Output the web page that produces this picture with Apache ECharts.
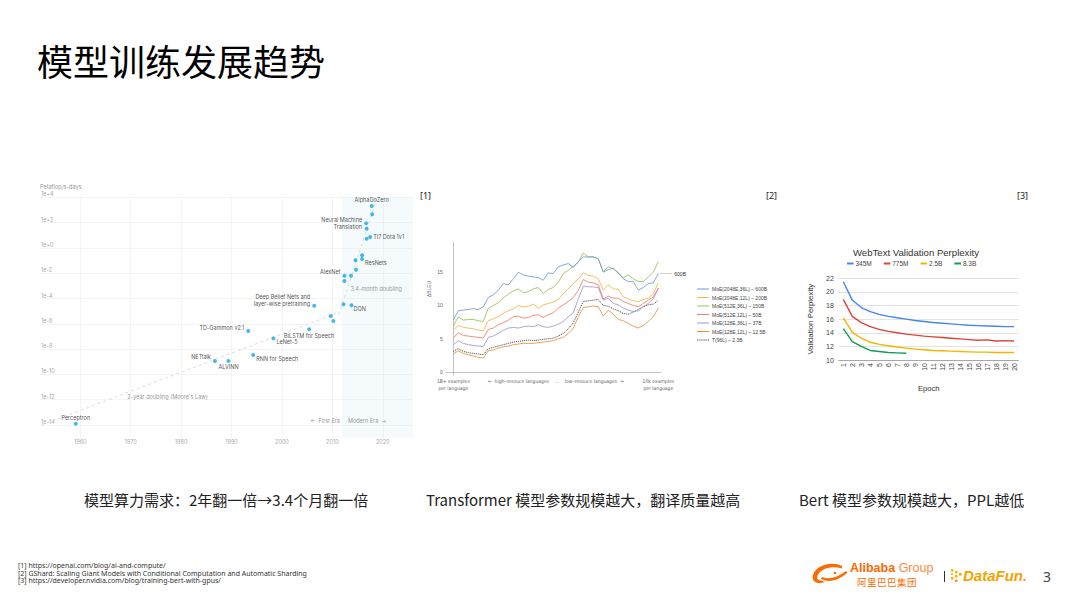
<!DOCTYPE html>
<html><head><meta charset="utf-8">
<script src="https://cdn.jsdelivr.net/npm/echarts@6/dist/echarts.min.js"></script>
<style>
html,body{margin:0;padding:0;background:#fff;}
#wrap{position:relative;width:1080px;height:607px;overflow:hidden;font-family:"Noto Sans CJK SC","Noto Sans",sans-serif;background:#fff;}
#chart{position:absolute;left:0;top:0;width:1080px;height:607px;}
.t{position:absolute;white-space:nowrap;}
</style></head>
<body><div id="wrap">
<div id="chart"></div>
<div class="t" style="left:37px;top:38px;font-size:36px;line-height:44px;color:#000">模型训练发展趋势</div>
<div class="t" style="left:420px;top:190px;font-size:9px;line-height:12px;color:#222;font-family:'Noto Sans'">[1]</div>
<div class="t" style="left:766px;top:190px;font-size:9px;line-height:12px;color:#222;font-family:'Noto Sans'">[2]</div>
<div class="t" style="left:1017px;top:190px;font-size:9px;line-height:12px;color:#222;font-family:'Noto Sans'">[3]</div>
<div class="t" style="left:429px;top:289px;font-size:5px;line-height:6px;color:#666;font-family:'Liberation Sans','DejaVu Sans';transform:translate(-50%,-50%) rotate(-90deg);transform-origin:center;">ΔBLEU</div>
<div class="t" style="left:84px;top:490px;font-size:15px;line-height:20px;color:#222">模型算力需求：2年翻一倍→3.4个月翻一倍</div>
<div class="t" style="left:426px;top:490px;font-size:15px;line-height:20px;color:#222">Transformer 模型参数规模越大，翻译质量越高</div>
<div class="t" style="left:799px;top:490px;font-size:15px;line-height:20px;color:#222">Bert 模型参数规模越大，PPL越低</div>
<div class="t" style="left:18px;top:562px;font-size:7px;line-height:7.5px;color:#333;font-family:'Noto Sans'">[1] https://openai.com/blog/ai-and-compute/<br>[2] GShard: Scaling Giant Models with Conditional Computation and Automatic Sharding<br>[3] https://developer.nvidia.com/blog/training-bert-with-gpus/</div>
<svg class="t" style="left:811px;top:562px" width="38" height="24" viewBox="0 0 38 24">
<path d="M31 4 C 21 -1, 5 3, 2 13 C 0 20, 7 23, 14 20 L 10 18.5 C 6 18.5, 5 15.5, 7.5 12 C 11 6.5, 21 3.5, 31 6.5 Z" fill="#ff6a00"/>
<path d="M11 15 C 18 18, 27 15.5, 35 9 L 36.5 10.5 C 28 18.5, 18 21, 10 17 Z" fill="#ff6a00"/>
<circle cx="24" cy="11" r="1.3" fill="#ff6a00"/>
</svg>
<div class="t" style="left:850px;top:562px;font-size:12.5px;line-height:12px;color:#ff6a00;font-family:'Liberation Sans'"><b>Alibaba</b> <span style="font-weight:normal;color:#ff8a3d">Group</span></div>
<div class="t" style="left:857px;top:578px;font-size:9.5px;line-height:9px;color:#ff6a00;letter-spacing:0.5px">阿里巴巴集团</div>
<div class="t" style="left:944px;top:571px;width:1px;height:11px;background:#333"></div>
<svg class="t" style="left:951px;top:569px" width="12" height="14" viewBox="0 0 12 14">
<rect x="0" y="0" width="2.5" height="2.5" fill="#f7b500"/><rect x="4" y="2" width="2.5" height="2.5" fill="#f7b500"/>
<rect x="8" y="4" width="2.5" height="2.5" fill="#f5a000"/><rect x="4" y="6" width="2.5" height="2.5" fill="#f7b500"/>
<rect x="0" y="8" width="2.5" height="2.5" fill="#f7b500"/><rect x="4" y="10.5" width="2.5" height="2.5" fill="#f5a000"/>
<rect x="0" y="4" width="2" height="2" fill="#f9c840"/>
</svg>
<div class="t" style="left:963px;top:566px;font-size:15px;line-height:20px;color:#f5a300;font-family:'Liberation Sans';font-weight:bold;font-style:italic">DataFun.</div>
<div class="t" style="left:1043px;top:567px;font-size:14px;line-height:20px;color:#444;font-family:'Noto Sans'">3</div>
</div>
<script>
// ---------- Chart 1: AI and compute ----------
const aiYear = [1959.1, 1986.7, 1989.4, 1993.3, 1994.3, 1998.3, 2005.4, 2006.4, 2009.7, 2010.2, 2012.2, 2013.8, 2012.4, 2012.4, 2013.7, 2014.7, 2014.6, 2015.9, 2015.9, 2016.8, 2017.5, 2016.8, 2016.7, 2017.9, 2017.8];
const aiLogCompute = [-13.9, -8.94, -8.94, -6.57, -8.47, -7.15, -6.43, -4.57, -5.38, -5.78, -4.46, -4.54, -2.62, -2.2, -2.2, -1.72, -0.98, -0.88, -0.58, 0.73, 0.86, 1.52, 1.94, 2.66, 3.31];
const aiName = ['Perceptron', 'NETtalk', 'ALVINN', 'TD-Gammon v2.1', 'RNN for Speech', 'LeNet-5', 'BiLSTM for Speech', 'Deep Belief Nets and\nlayer-wise pretraining', '', '', '', 'DQN', '', 'AlexNet', '', '', '', 'ResNets', '', '', 'TI7 Dota 1v1', '', 'Neural Machine\nTranslation', '', 'AlphaGoZero'];
const mooreTrend = [[1952.3, -14.0], [2011.3, -5.1]];
const modernTrend = [[2011.3, -5.3], [2018.8, 3.9]];
const modernEraStart = 2011.9;

// ---------- Chart 2: GShard BLEU ----------
const langIndex = [0,1,2,3,4,5,6,7,8,9,10,11,12,13,14,15,16,17,18,19,20,21,22,23,24,25,26,27,28,29,30,31,32,33,34,35,36,37,38,39,40,41];
const gshardNames = ['MoE(2048E,36L) – 600B', 'MoE(2048E,12L) – 200B', 'MoE(512E,36L) – 150B', 'MoE(512E,12L) – 50B', 'MoE(128E,36L) – 37B', 'MoE(128E,12L) – 12.5B', 'T(96L) – 2.3B'];
const bleu600B = [7.8, 9.2, 9.3, 9.4, 9.5, 9.4, 9.8, 11.2, 11.6, 12.3, 13.3, 13.1, 14.0, 15.0, 14.6, 14.4, 14.3, 14.2, 13.8, 14.9, 14.8, 15.8, 16.1, 16.3, 15.7, 16.6, 17.3, 17.3, 17.3, 17.0, 15.0, 15.4, 15.6, 14.9, 14.0, 13.6, 13.6, 12.3, 12.7, 13.3, 13.4, 14.8];
const bleu200B = [6.3, 7.0, 6.7, 6.6, 6.5, 6.3, 6.2, 7.7, 8.0, 8.3, 8.8, 9.2, 9.5, 10.0, 9.8, 9.9, 10.2, 9.6, 10.1, 10.3, 10.5, 10.9, 11.8, 12.5, 13.3, 14.0, 14.9, 14.5, 14.4, 14.0, 12.3, 13.1, 12.5, 12.4, 11.3, 11.0, 10.7, 10.6, 10.9, 11.1, 11.8, 13.4];
const bleu150B = [6.9, 8.3, 7.8, 7.9, 7.9, 7.7, 7.6, 9.6, 10.0, 10.4, 11.1, 11.7, 12.2, 12.5, 11.9, 12.1, 12.5, 12.7, 11.8, 12.4, 12.7, 13.5, 14.8, 15.3, 15.9, 16.5, 17.9, 17.3, 17.3, 17.0, 15.1, 15.8, 15.5, 14.9, 14.2, 14.6, 14.0, 13.6, 13.6, 14.3, 15.0, 16.6];
const bleu50B = [5.1, 5.9, 5.5, 5.4, 5.3, 5.2, 5.1, 6.4, 6.6, 7.1, 7.4, 7.8, 8.3, 8.4, 8.1, 8.2, 8.5, 8.6, 8.2, 8.6, 8.9, 9.6, 10.1, 10.6, 11.2, 12.3, 13.9, 13.5, 13.4, 13.1, 11.0, 11.4, 11.1, 11.1, 10.6, 10.3, 10.0, 9.8, 10.3, 10.8, 11.3, 12.6];
const bleu37B = [4.1, 4.7, 4.3, 4.1, 4.0, 3.9, 3.8, 5.2, 5.4, 5.8, 6.3, 6.6, 6.7, 6.6, 6.8, 6.9, 6.8, 7.1, 6.8, 6.7, 6.9, 7.2, 7.6, 8.3, 8.9, 11.0, 12.9, 12.8, 12.8, 12.7, 10.8, 11.1, 10.3, 10.1, 9.6, 9.3, 9.1, 9.2, 9.8, 10.3, 11.0, 12.6];
const bleu12_5B = [2.7, 3.2, 2.8, 2.6, 2.4, 2.2, 2.1, 3.2, 3.3, 3.6, 3.8, 3.9, 4.1, 4.2, 4.3, 4.3, 4.3, 4.4, 4.5, 4.6, 4.7, 5.0, 5.2, 5.8, 6.6, 8.3, 9.7, 9.8, 9.9, 9.8, 8.4, 9.3, 8.7, 7.9, 7.7, 7.3, 6.9, 6.6, 7.0, 7.6, 8.3, 9.6];
const bleu2_3B = [3.1, 3.5, 3.1, 2.9, 2.8, 2.7, 2.6, 3.5, 3.7, 3.9, 4.1, 4.3, 4.5, 4.6, 4.7, 4.8, 4.7, 4.8, 4.9, 5.0, 5.1, 5.4, 5.8, 6.5, 7.4, 9.0, 10.6, 10.7, 10.8, 10.9, 10.0, 9.9, 9.5, 9.2, 8.8, 8.7, 9.0, 9.4, 9.8, 10.1, 10.2, 10.8];
const xTickLabels = {0: '1B+ examples\nper language', 20.5: '←  high–resouce languages    ...    low–resouce languages  →', 41: '10k examples\nper language'};

// ---------- Chart 3: BERT / Megatron perplexity ----------
const epochs = ['1','2','3','4','5','6','7','8','9','10','11','12','13','14','15','16','17','18','19','20'];
const ppl345M = [21.5, 18.8, 17.7, 17.1, 16.7, 16.4, 16.2, 16.0, 15.8, 15.65, 15.5, 15.4, 15.3, 15.2, 15.1, 15.05, 15.0, 14.95, 14.9, 14.9];
const ppl775M = [18.9, 16.4, 15.5, 14.9, 14.5, 14.2, 14.0, 13.8, 13.65, 13.5, 13.4, 13.3, 13.2, 13.1, 13.0, 12.9, 12.95, 12.8, 12.85, 12.8];
const ppl2_5B = [16.2, 14.1, 13.2, 12.6, 12.3, 12.1, 11.9, 11.75, 11.6, 11.5, 11.4, 11.35, 11.3, 11.25, 11.2, 11.15, 11.15, 11.1, 11.1, 11.1];
const ppl8_3B = [14.6, 12.7, 12.0, 11.4, 11.25, 11.1, 11.05, 11.0];

// ---------- styles ----------
const aiLabelLayout = {
  'Perceptron': {position: 'top', distance: 1},
  'NETtalk': {position: 'left', distance: 2, offset: [0, -4]},
  'ALVINN': {position: 'bottom', distance: 1},
  'TD-Gammon v2.1': {position: 'left', distance: 2, offset: [0, -3]},
  'RNN for Speech': {position: 'right', distance: 1, offset: [0, 4]},
  'LeNet-5': {position: 'right', distance: 1, offset: [0, 4]},
  'BiLSTM for Speech': {position: 'bottom', distance: 1},
  'Deep Belief Nets and\nlayer-wise pretraining': {position: 'left', distance: 2, offset: [0, -5], align: 'right'},
  'DQN': {position: 'right', distance: 1, offset: [-1, 4]},
  'AlexNet': {position: 'left', distance: 2, offset: [0, -4]},
  'ResNets': {position: 'right', distance: 1, offset: [0, 4]},
  'TI7 Dota 1v1': {position: 'right', distance: 1},
  'Neural Machine\nTranslation': {position: 'left', distance: 2, align: 'right'},
  'AlphaGoZero': {position: 'top', distance: 1}
};
const gshardColors = ['#7399cf', '#f1b54a', '#96c156', '#ea7d66', '#a096d4', '#e4923f', '#333333'];
const pplColors = ['#4285f4', '#db4437', '#f4b400', '#0f9d58'];
const T = 'transparent';
const grid1Line = '#edf0f2';
const solidIcon = 'path://M0,0h12v1h-12z';
const dottedIcon = 'path://M0,0h1v1h-1zM2,0h1v1h-1zM4,0h1v1h-1zM6,0h1v1h-1zM8,0h1v1h-1zM10,0h1v1h-1zM12,0h1v1h-1z';

const aiPoints = aiYear.map((y, i) => {
  const lay = aiLabelLayout[aiName[i]];
  return {value: [y, aiLogCompute[i]], name: aiName[i], label: lay ? Object.assign({show: true}, lay) : {show: false}};
});
const gshardData = [bleu600B, bleu200B, bleu150B, bleu50B, bleu37B, bleu12_5B, bleu2_3B];

const gshardSeries = gshardData.map((arr, k) => {
  const s = {
    name: gshardNames[k], type: 'line', xAxisIndex: 1, yAxisIndex: 1,
    data: arr.map((v, i) => [langIndex[i], v]), symbol: 'none', smooth: false,
    lineStyle: {color: gshardColors[k], width: k === 6 ? 1 : 0.9, type: k === 6 ? 'dotted' : 'solid', opacity: 0.95},
    itemStyle: {color: gshardColors[k]}, z: 10 - k
  };
  if (k === 0) {
    s.endLabel = {show: true, distance: 2, formatter: '{l|}{t|600B}',
      rich: {l: {width: 12, height: 0.8, backgroundColor: '#c8c8c8'}, t: {fontSize: 5, color: '#333', padding: [0, 0, 0, 2], fontFamily: 'Liberation Sans'}}};
  }
  return s;
});

const pplNames = ['345M', '775M', '2.5B', '8.3B'];
const pplData = [ppl345M, ppl775M, ppl2_5B, ppl8_3B];
const pplSeries = pplData.map((arr, k) => ({
  name: pplNames[k], type: 'line', xAxisIndex: 2, yAxisIndex: 2, data: arr, symbol: 'none',
  lineStyle: {color: pplColors[k], width: 1.4}, itemStyle: {color: pplColors[k]}
}));

const chart = echarts.init(document.getElementById('chart'), null, {renderer: 'svg'});
chart.setOption({
  animation: false,
  textStyle: {fontFamily: 'Liberation Sans'},
  title: [{
    text: 'WebText Validation Perplexity', left: 911, top: 242, textAlign: 'center',
    textStyle: {fontSize: 9.6, fontWeight: 'normal', color: '#333', fontFamily: 'Liberation Sans'}
  }],
  legend: [{
    data: gshardNames.map((n, k) => ({name: n, icon: k === 6 ? dottedIcon : solidIcon})),
    orient: 'vertical', left: 697, top: 286, itemWidth: 12, itemHeight: 1, itemGap: 2.5, symbolKeepAspect: false,
    itemStyle: {borderWidth: 0}, lineStyle: {width: 0},
    padding: 0, textStyle: {fontSize: 5, color: '#444', lineHeight: 6, fontFamily: 'Liberation Sans', padding: [0, 0, 0, -2]}
  }, {
    data: pplNames, orient: 'horizontal', left: 847, top: 260, icon: 'rect', itemWidth: 6.5, itemHeight: 2, itemGap: 12,
    padding: 0, textStyle: {fontSize: 6.5, color: '#444', fontFamily: 'Liberation Sans', padding: [0, 0, 0, -3]}
  }],
  grid: [
    {left: 40, top: 197.3, width: 373, height: 240.4},
    {left: 445.8, top: 242.3, width: 215, height: 133},
    {left: 838.8, top: 278.3, width: 179.7, height: 81.7}
  ],
  xAxis: [{
    gridIndex: 0, type: 'value', min: 1952, max: 2026, interval: 2,
    axisLine: {show: false}, axisTick: {show: false},
    axisLabel: {formatter: v => (v % 10 === 0 && v >= 1960 && v <= 2020) ? String(v) : '', fontSize: 5.5, color: '#aaa', margin: 1, fontFamily: 'Inter'},
    splitLine: {show: true, lineStyle: {color: [T, T, T, T, grid1Line], width: 0.7}}
  }, {
    gridIndex: 1, type: 'value', min: -1.5, max: 41.5, interval: 0.5,
    axisLine: {show: true, lineStyle: {color: '#aaa', width: 0.7}}, axisTick: {show: false}, splitLine: {show: false},
    axisLabel: {formatter: v => xTickLabels[v] || '', fontSize: 5, lineHeight: 7, color: '#666', margin: 2, fontFamily: 'DejaVu Sans Condensed, Liberation Sans'}
  }, {
    gridIndex: 2, type: 'category', data: epochs, boundaryGap: true,
    axisLine: {show: true, lineStyle: {color: '#999', width: 0.8}}, axisTick: {show: false},
    axisLabel: {rotate: 90, fontSize: 7, color: '#444', margin: 3, interval: 0},
    name: 'Epoch', nameLocation: 'middle', nameGap: 24, nameTextStyle: {fontSize: 7.6, color: '#333'}
  }],
  yAxis: [{
    gridIndex: 0, type: 'value', min: -15, max: 4, interval: 1,
    axisLine: {show: false}, axisTick: {show: false},
    axisLabel: {inside: true, margin: 1, verticalAlign: 'bottom', fontSize: 5.5, color: '#aaa', fontFamily: 'Inter',
      formatter: v => (v % 2 === 0) ? ('1e' + (v >= 0 ? '+' : '') + v) : ''},
    splitLine: {show: true, lineStyle: {color: [T, grid1Line], width: 0.7}},
    name: 'Petaflop/s-days', nameLocation: 'end', nameGap: 7,
    nameTextStyle: {align: 'left', fontSize: 5.5, color: '#999', fontFamily: 'Inter'}
  }, {
    gridIndex: 1, type: 'value', min: -0.5, max: 19.5, interval: 0.5,
    axisLine: {show: true, lineStyle: {color: '#aaa', width: 0.7}}, axisTick: {show: false}, splitLine: {show: false},
    axisLabel: {formatter: v => (v >= 0 && v % 5 === 0) ? String(v) : '', fontSize: 5, color: '#666', margin: 3}
  }, {
    gridIndex: 2, type: 'value', min: 10, max: 22, interval: 2,
    axisLine: {show: false}, axisTick: {show: false},
    axisLabel: {fontSize: 7, color: '#444', margin: 5},
    splitLine: {show: true, lineStyle: {color: '#dcdcdc', width: 0.8}},
    name: 'Validation Perplexity', nameLocation: 'middle', nameGap: 24, nameRotate: 90,
    nameTextStyle: {fontSize: 7.9, color: '#333'}
  }],
  series: [{
    type: 'line', xAxisIndex: 0, yAxisIndex: 0, data: mooreTrend, symbol: 'none', silent: true,
    lineStyle: {type: [3, 3], color: '#d2d2d2', width: 0.8},
    markArea: {silent: true, itemStyle: {color: 'rgba(205,234,240,0.2)'}, data: [[{xAxis: modernEraStart}, {xAxis: 2026}]]},
    markPoint: {symbolSize: 0, silent: true, data: [
      {coord: [1977.3, -11.8], label: {show: true, formatter: "2-year doubling (Moore's Law)", fontSize: 5.5, color: '#999', fontFamily: 'Inter'}},
      {coord: [2011.5, -13.7], label: {show: true, formatter: '←  First Era', align: 'right', fontSize: 5.5, color: '#999', fontFamily: 'Inter'}},
      {coord: [2013.1, -13.7], label: {show: true, formatter: 'Modern Era  →', align: 'left', fontSize: 5.5, color: '#999', fontFamily: 'Inter'}},
      {coord: [2013.6, -3.25], label: {show: true, formatter: '3.4-month doubling', align: 'left', fontSize: 5.5, color: '#999', fontFamily: 'Inter'}}
    ]}
  }, {
    type: 'line', xAxisIndex: 0, yAxisIndex: 0, data: modernTrend, symbol: 'none', silent: true,
    lineStyle: {type: [3, 3], color: '#d2d2d2', width: 0.8}
  }, {
    type: 'scatter', xAxisIndex: 0, yAxisIndex: 0, data: aiPoints, symbolSize: 4,
    itemStyle: {color: '#17a7e6'},
    label: {formatter: '{b}', fontSize: 5.5, lineHeight: 6.5, color: '#222', fontFamily: 'Inter'}, z: 5
  }].concat(gshardSeries, pplSeries)
});
</script>
</body></html>
